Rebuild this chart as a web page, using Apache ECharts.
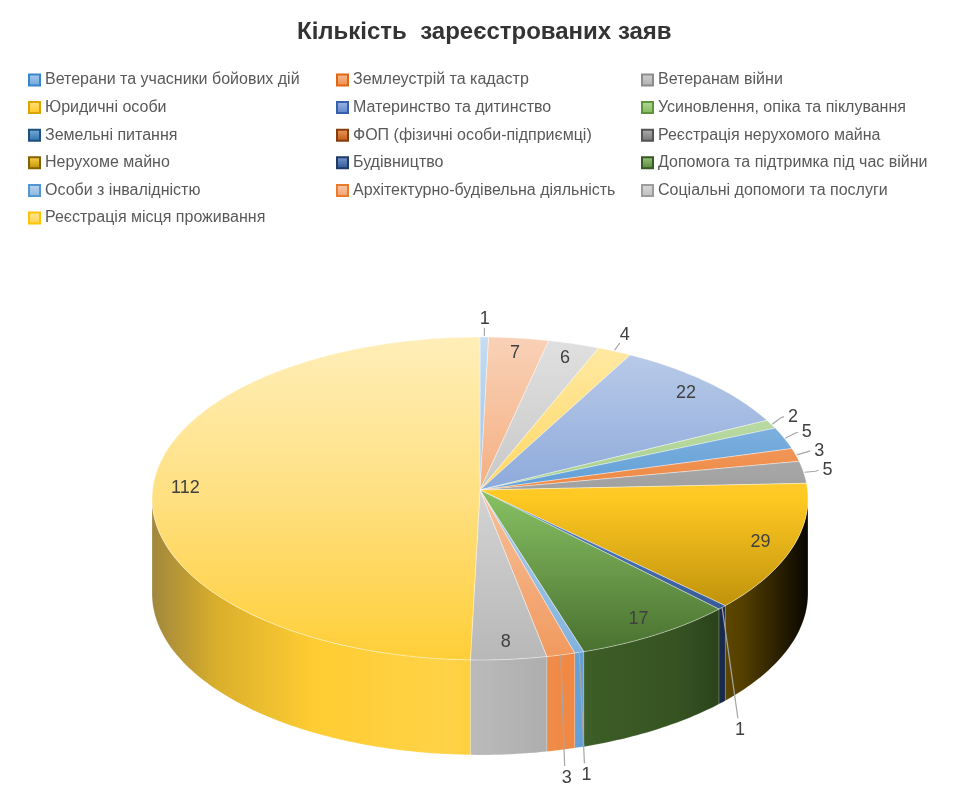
<!DOCTYPE html>
<html>
<head>
<meta charset="utf-8">
<title>Кількість зареєстрованих заяв</title>
<script src="https://cdn.jsdelivr.net/npm/echarts@6/dist/echarts.min.js"></script>
<style>
  html, body { margin: 0; padding: 0; background: #fff; }
  #chart { width: 975px; height: 807px; }
</style>
</head>
<body>
<div id="chart"></div>
<script>
// дані діаграми
var categories = [
  'Ветерани та учасники бойових дій', 'Землеустрій та кадастр', 'Ветеранам війни',
  'Юридичні особи', 'Материнство та дитинство', 'Усиновлення, опіка та піклування',
  'Земельні питання', 'ФОП (фізичні особи-підприємці)', 'Реєстрація нерухомого майна',
  'Нерухоме майно', 'Будівництво', 'Допомога та підтримка під час війни',
  'Особи з інвалідністю', 'Архітектурно-будівельна діяльність', 'Соціальні допомоги та послуги',
  'Реєстрація місця проживання'
];
var values = [1, 7, 6, 4, 22, 2, 5, 3, 5, 29, 1, 17, 1, 3, 8, 112];
var colors = [
  '#5B9BD5', '#ED7D31', '#A5A5A5', '#FFC000', '#4472C4', '#70AD47',
  '#255E91', '#9E480E', '#636363', '#997300', '#264478', '#43682B',
  '#7CAFDD', '#F1975A', '#B7B7B7', '#FFCD33'
];

(function () {
  var chart = echarts.init(document.getElementById('chart'));

  var total = 0;
  var starts = [];
  values.forEach(function (v) { starts.push(total); total += v; });

  // "3D" коло: центр, півосі, легка перспектива та товщина
  var cx = 480, cy = 490, A = 327.5, B = 161, persp = -0.0526, depth = 95;
  var sil = Math.acos(persp) * 180 / Math.PI; // видимий край стінки

  // робота з кольором через HSL
  function toHsl(hex) {
    var r = parseInt(hex.slice(1, 3), 16) / 255, g = parseInt(hex.slice(3, 5), 16) / 255, b = parseInt(hex.slice(5, 7), 16) / 255;
    var max = Math.max(r, g, b), min = Math.min(r, g, b), h = 0, s = 0, l = (max + min) / 2;
    if (max !== min) {
      var d = max - min;
      s = l > 0.5 ? d / (2 - max - min) : d / (max + min);
      if (max === r) h = (g - b) / d + (g < b ? 6 : 0);
      else if (max === g) h = (b - r) / d + 2;
      else h = (r - g) / d + 4;
      h /= 6;
    }
    return [h, s, l];
  }
  function fromHsl(h, s, l) {
    function f(p, q, t) {
      if (t < 0) t += 1; if (t > 1) t -= 1;
      if (t < 1 / 6) return p + (q - p) * 6 * t;
      if (t < 1 / 2) return q;
      if (t < 2 / 3) return p + (q - p) * (2 / 3 - t) * 6;
      return p;
    }
    var r, g, b;
    if (s === 0) { r = g = b = l; } else {
      var q = l < 0.5 ? l * (1 + s) : l + s - l * s, p = 2 * l - q;
      r = f(p, q, h + 1 / 3); g = f(p, q, h); b = f(p, q, h - 1 / 3);
    }
    return 'rgb(' + Math.round(r * 255) + ',' + Math.round(g * 255) + ',' + Math.round(b * 255) + ')';
  }
  // f < 1 темніше, f > 1 світліше; sf - множник насиченості
  function tone(hex, f, sf) {
    var c = toHsl(hex), l = c[2];
    l = f <= 1 ? l * f : l + (1 - l) * (f - 1);
    return fromHsl(c[0], Math.min(1, c[1] * (sf || 1)), l);
  }

  function topFill(hex) {
    return new echarts.graphic.LinearGradient(0, cy - 153, 0, cy + 170, [
      { offset: 0, color: tone(hex, 1.65) },
      { offset: 0.5, color: tone(hex, 1.38) },
      { offset: 1, color: tone(hex, 1.02) }
    ], true);
  }
  function wallFill(hex) {
    var st = [[0, 0.72, 0.45], [0.1, 0.85, 0.7], [0.25, 1.0, 1], [0.45, 1.1, 1], [0.6, 0.95, 1],
              [0.8, 0.8, 1], [0.9, 0.55, 1], [0.97, 0.2, 1], [1, 0.05, 1]];
    return new echarts.graphic.LinearGradient(cx - 328, 0, cx + 328, 0, st.map(function (s) {
      return { offset: s[0], color: tone(hex, s[1], s[2]) };
    }), true);
  }

  // точка на колі (кут від 12 год за годинниковою, k - частка радіуса)
  function pt(deg, k, dy) {
    var a = deg * Math.PI / 180;
    var u = Math.sin(a) * k, v = -Math.cos(a) * k, d = 1 + persp * v;
    return [cx + A * u / d, cy + B * v / d + (dy || 0)];
  }
  function arc(a0, a1, dy) {
    var pts = [], n = Math.max(2, Math.ceil(a1 - a0));
    for (var j = 0; j <= n; j++) pts.push(pt(a0 + (a1 - a0) * j / n, 1, dy));
    return pts;
  }

  var labelStyle = { fontSize: 18, fill: '#404040', fontFamily: 'Liberation Sans', align: 'center', verticalAlign: 'middle' };
  var leader = { stroke: '#A6A6A6', lineWidth: 1.2 };

  function renderSlice(i) {
    var a0 = starts[i] / total * 360, a1 = (starts[i] + values[i]) / total * 360, mid = (a0 + a1) / 2;
    var kids = [];
    // бокова стінка (тільки передня половина)
    var w0 = Math.max(a0, sil), w1 = Math.min(a1, 360 - sil);
    if (w1 > w0) {
      kids.push({
        type: 'polygon', z2: 1,
        shape: { points: arc(w0, w1, 0).concat(arc(w0, w1, depth).reverse()) },
        style: { fill: wallFill(colors[i]), stroke: 'rgba(255,255,255,0.25)', lineWidth: 0.6 }
      });
    }
    // верхня поверхня
    kids.push({
      type: 'polygon', z2: 10,
      shape: { points: [pt(0, 0)].concat(arc(a0, a1, 0)) },
      style: { fill: topFill(colors[i]), stroke: 'rgba(255,255,255,0.55)', lineWidth: 0.7 }
    });
    // підпис
    var txt = String(values[i]);
    var a = mid * Math.PI / 180, u = Math.sin(a), v = -Math.cos(a);
    if (values[i] >= 6) {
      var p = pt(mid, 0.9);
      kids.push({ type: 'text', z2: 20, x: p[0], y: p[1], style: Object.assign({ text: txt }, labelStyle) });
    } else if (mid > 90 && mid < 270) {
      var e = pt(mid, 1);
      var lx = e[0] + 25 * u, ly = e[1] + depth + 28;
      kids.push({ type: 'line', z2: 20, shape: { x1: e[0], y1: e[1], x2: lx - 2, y2: ly - 12 }, style: leader });
      kids.push({ type: 'text', z2: 20, x: lx, y: ly, style: Object.assign({ text: txt }, labelStyle) });
    } else {
      var e2 = pt(mid, 1);
      var lp = [e2[0] + 24 * u, e2[1] + 18 * v];
      var pts = u > 0.8
        ? [[e2[0] + 1, e2[1]], [lp[0] - 12, lp[1] + 1], [lp[0] - 9, lp[1]]]
        : [[e2[0], e2[1] - 1], [e2[0] + (lp[0] - e2[0]) * 0.5, e2[1] + (lp[1] - e2[1]) * 0.5]];
      kids.push({ type: 'polyline', z2: 20, shape: { points: pts }, style: Object.assign({ fill: null }, leader) });
      kids.push({ type: 'text', z2: 20, x: lp[0], y: lp[1], style: Object.assign({ text: txt }, labelStyle) });
    }
    return { type: 'group', children: kids };
  }

  var colLeft = [23, 331, 636];
  var legends = colLeft.map(function (left, c) {
    return {
      orient: 'vertical',
      left: left,
      top: 67,
      icon: 'rect',
      itemWidth: 11,
      itemHeight: 11,
      itemGap: 11.6,
      selectedMode: false,
      data: categories.filter(function (n, i) { return i % 3 === c; }),
      textStyle: { fontSize: 16, color: '#595959', fontFamily: 'Liberation Sans', lineHeight: 16 }
    };
  });

  var option = {
    animation: false,
    title: {
      text: 'Кількість  зареєстрованих заяв',
      left: 292,
      top: 15,
      textStyle: { fontSize: 24, fontWeight: 'bold', color: '#333333', fontFamily: 'Liberation Sans' }
    },
    legend: legends,
    series: categories.map(function (name, i) {
      return {
        type: 'custom',
        name: name,
        coordinateSystem: 'none',
        silent: true,
        data: [[values[i]]],
        itemStyle: {
          color: new echarts.graphic.LinearGradient(0, 0, 0, 1, [
            { offset: 0, color: tone(colors[i], 1.5) },
            { offset: 1, color: tone(colors[i], 1.1) }
          ]),
          borderColor: tone(colors[i], 0.85),
          borderWidth: 0.6
        },
        renderItem: function () { return renderSlice(i); }
      };
    })
  };
  chart.setOption(option);
})();
</script>
</body>
</html>
